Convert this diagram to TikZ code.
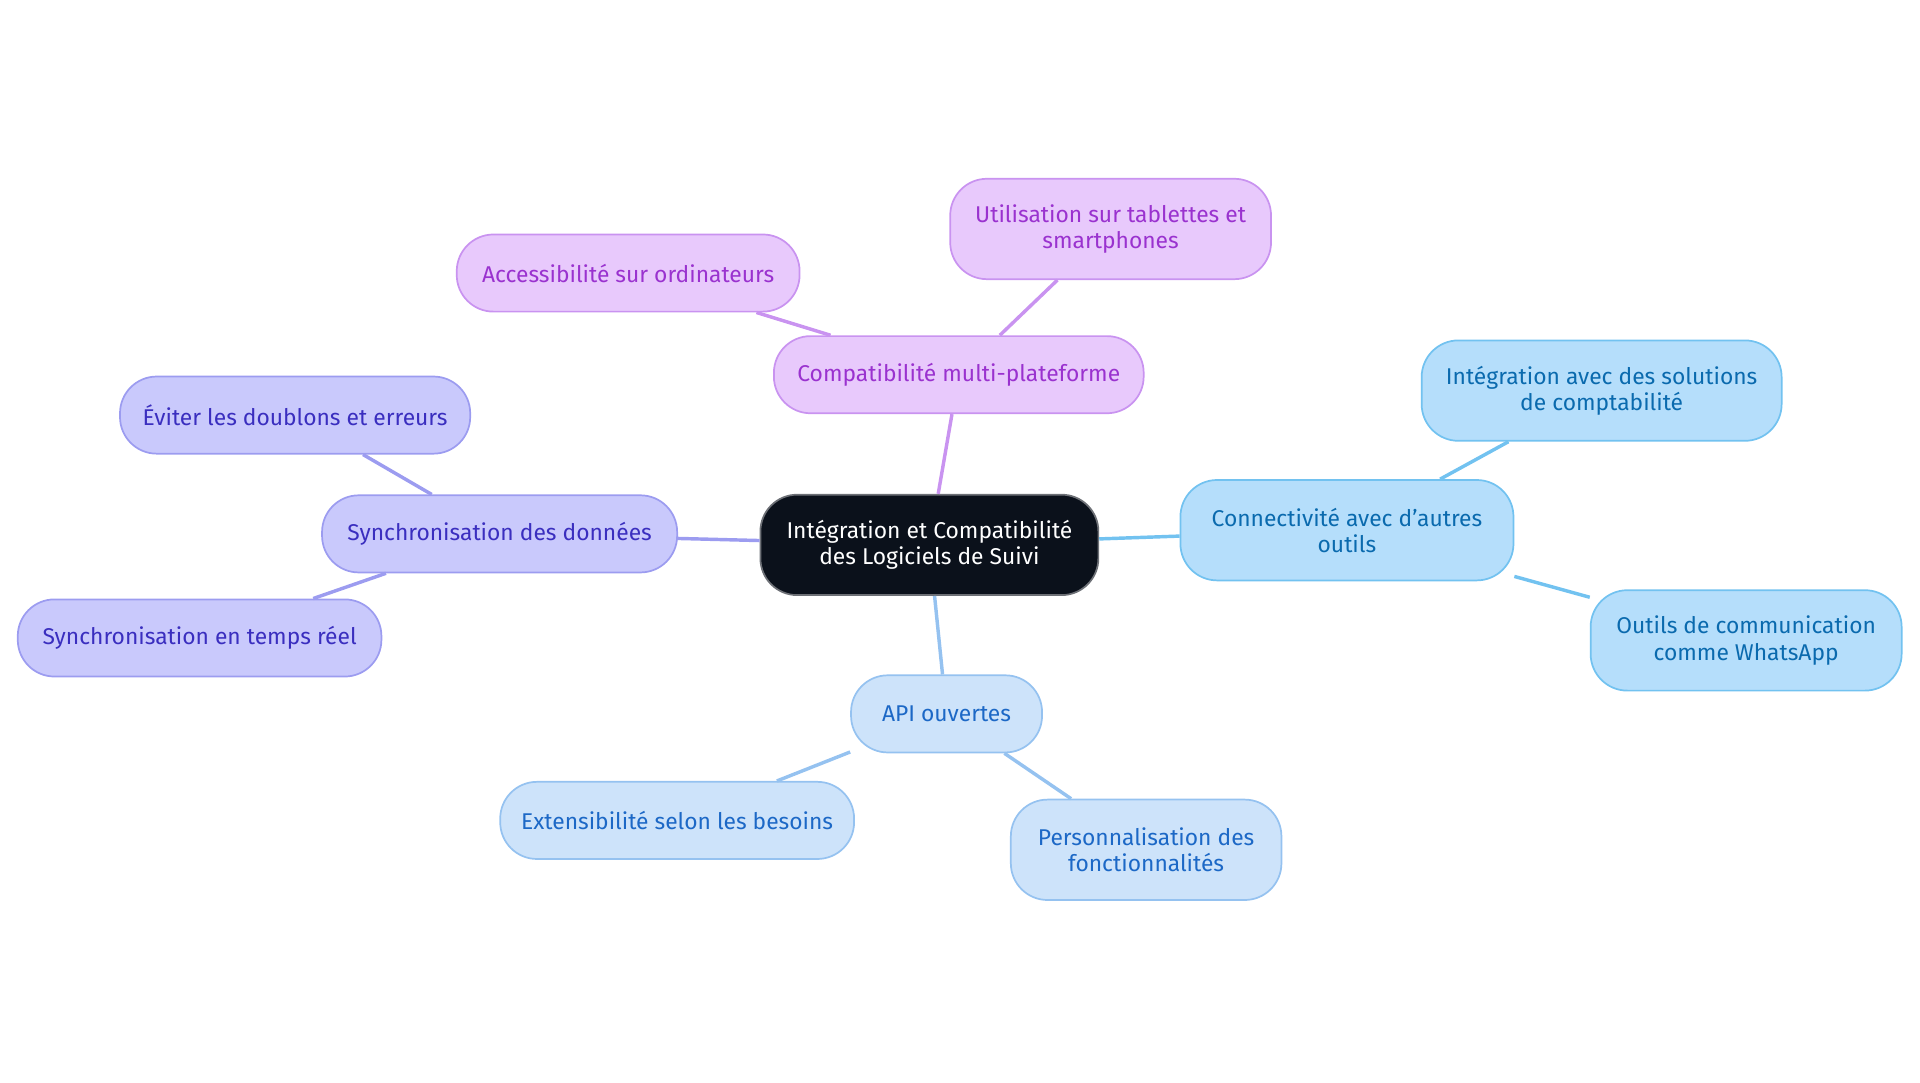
\documentclass[tikz,border=0pt]{standalone}
\usepackage{fontspec}
\setmainfont{Fira Sans}
\definecolor{purfill}{HTML}{E8C9FC}\definecolor{purline}{HTML}{C993F0}\definecolor{purtext}{HTML}{9A32CF}
\definecolor{viofill}{HTML}{C9C9FC}\definecolor{violine}{HTML}{9C9CF0}\definecolor{viotext}{HTML}{3A2EBF}
\definecolor{skyfill}{HTML}{B5DEFB}\definecolor{skyline}{HTML}{72C2F0}\definecolor{skytext}{HTML}{0A6AAE}
\definecolor{palfill}{HTML}{CDE3FA}\definecolor{palline}{HTML}{95C2F0}\definecolor{paltext}{HTML}{1C68C6}
\definecolor{rootfill}{HTML}{0B111B}
\tikzset{
  box/.style={rounded corners=0.3cm, line width=0.4pt, align=center, inner sep=0pt,
    font=\fontsize{5.3}{6.1}\selectfont},
  root/.style={box, fill=rootfill, draw=rootfill!60, text=white},
  pur/.style={box, fill=purfill, draw=purline, text=purtext},
  vio/.style={box, fill=viofill, draw=violine, text=viotext},
  sky/.style={box, fill=skyfill, draw=skyline, text=skytext},
  pal/.style={box, fill=palfill, draw=palline, text=paltext},
}
\begin{document}
\begin{tikzpicture}
	\useasboundingbox (0,0) rectangle (15.68,-8.84);

	%% root
	\node[root, minimum width=2.76cm, minimum height=0.82cm] at (7.59,-4.45)(root){Intégration et Compatibilité\\des Logiciels de Suivi};

	%% compatibilite
	\node[pur, minimum width=3.02cm, minimum height=0.63cm] at (7.83,-3.06)(compat){Compatibilité multi-plateforme};
	\node[pur, minimum width=2.80cm, minimum height=0.63cm] at (5.13,-2.23)(acces){Accessibilité sur ordinateurs};
	\node[pur, minimum width=2.62cm, minimum height=0.82cm] at (9.07,-1.87)(tablet){Utilisation sur tablettes et\\smartphones};

	%% synchronisation
	\node[vio, minimum width=2.90cm, minimum height=0.63cm] at (4.08,-4.36)(sync){Synchronisation des données};
	\node[vio, minimum width=2.86cm, minimum height=0.63cm] at (2.41,-3.39)(doubl){Éviter les doublons et erreurs};
	\node[vio, minimum width=2.97cm, minimum height=0.63cm] at (1.63,-5.21)(reel){Synchronisation en temps réel};

	%% connectivite
	\node[sky, minimum width=2.72cm, minimum height=0.82cm] at (11.00,-4.33)(conn){Connectivité avec d'autres\\outils};
	\node[sky, minimum width=2.94cm, minimum height=0.82cm] at (13.08,-3.19)(compta){Intégration avec des solutions\\de comptabilité};
	\node[sky, minimum width=2.54cm, minimum height=0.82cm] at (14.26,-5.23)(whats){Outils de communication\\comme WhatsApp};

	%% api
	\node[pal, minimum width=1.56cm, minimum height=0.63cm] at (7.73,-5.83)(api){API ouvertes};
	\node[pal, minimum width=2.89cm, minimum height=0.63cm] at (5.53,-6.70)(ext){Extensibilité selon les besoins};
	\node[pal, minimum width=2.21cm, minimum height=0.82cm] at (9.36,-6.94)(perso){Personnalisation des\\fonctionnalités};

	\begin{scope}[on background layer/.try, line width=0.8pt]
	\end{scope}
	\draw[purline, line width=0.8pt] (root)--(compat) (compat)--(acces) (compat)--(tablet);
	\draw[violine, line width=0.8pt] (root)--(sync) (sync)--(doubl) (sync)--(reel);
	\draw[skyline, line width=0.8pt] (root)--(conn) (conn)--(compta) (conn)--(whats);
	\draw[palline, line width=0.8pt] (root)--(api) (api)--(ext) (api)--(perso);
\end{tikzpicture}
\end{document}
